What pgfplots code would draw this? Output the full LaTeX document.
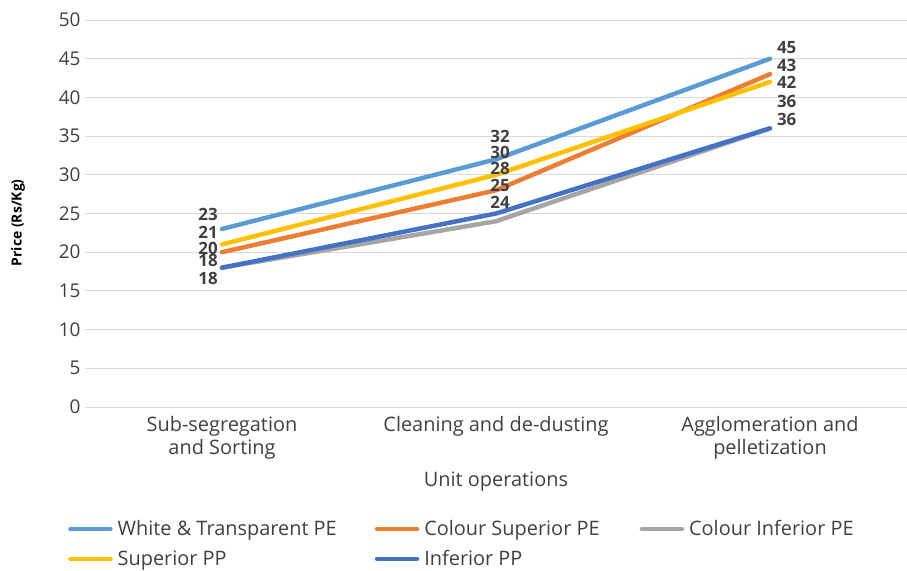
\documentclass[border=0pt]{standalone}
\usepackage{pgfplots}
\pgfplotsset{compat=1.18}
\usepackage{fontspec}
\setmainfont{Open Sans}
\definecolor{cWT}{HTML}{5B9BD5}
\definecolor{cCS}{HTML}{ED7D31}
\definecolor{cCI}{HTML}{A5A5A5}
\definecolor{cSP}{HTML}{FFC000}
\definecolor{cIP}{HTML}{4472C4}
\definecolor{txt}{HTML}{404040}
\definecolor{gridc}{HTML}{D9D9D9}
\begin{document}
\begin{tikzpicture}
\begin{axis}[
  at={(0,0)}, anchor=south west,
  scale only axis, width=822bp, height=387bp,
  xmin=-0.5, xmax=2.5, ymin=0, ymax=50,
  xtick={0,1,2},
  xticklabels={{Sub-segregation\\and Sorting},{Cleaning and de-dusting},{Agglomeration and\\pelletization}},
  xticklabel style={align=center, font=\fontsize{20}{23}\selectfont, text=txt, anchor=north, yshift=-6bp},
  ytick={0,5,...,50},
  yticklabel style={font=\fontsize{19}{21}\selectfont, text=txt, xshift=-1bp},
  /pgf/number format/assume math mode=true,
  xmajorgrids=false, ymajorgrids=true, grid style={draw=gridc, line width=0.9pt},
  major tick length=0pt,
  axis x line=bottom, axis y line=left,
  x axis line style={draw=gridc, line width=0.9pt, -},
  y axis line style={draw=none},
  xlabel={Unit operations},
  xlabel style={font=\fontsize{20}{23}\selectfont, text=txt, at={(axis description cs:0.5,-0.194)}, anchor=center},
  ylabel={\bfseries Price (Rs/Kg)},
  ylabel style={font=\fontsize{14}{16}\selectfont, text=black, at={(axis description cs:-0.0815,0.476)}, anchor=center, rotate=0},
  clip=false,
  legend columns=3,
  legend style={draw=none, fill=none, font=\fontsize{20}{23}\selectfont, text=txt,
    at={(axis description cs:-0.0207,-0.288)}, anchor=north west,
    /tikz/column 2/.style={column sep=33bp},
    /tikz/column 4/.style={column sep=35bp},
    row sep=9bp, cells={anchor=west}, inner sep=0pt,
    nodes={inner xsep=5bp}},
  legend image code/.code={\draw[#1, line cap=round] (0bp,0bp) -- (40bp,0bp);},
  every axis plot/.append style={line width=4.5pt, line cap=round, line join=round},
]
\addplot[cWT, mark=none] coordinates {(0,23) (1,32) (2,45)};
\addlegendentry{White \& Transparent PE}
\addplot[cCS, mark=none] coordinates {(0,20) (1,28) (2,43)};
\addlegendentry{Colour Superior PE}
\addplot[cCI, mark=none] coordinates {(0,18) (1,24) (2,36)};
\addlegendentry{Colour Inferior PE}
\addplot[cSP, mark=none] coordinates {(0,21) (1,30) (2,42)};
\addlegendentry{Superior PP}
\addplot[cIP, mark=none] coordinates {(0,18) (1,25) (2,36)};
\addlegendentry{Inferior PP}
\addplot[draw=none, mark=none, forget plot,
  nodes near coords, point meta=explicit symbolic,
  nodes near coords style={anchor=center, font=\fontsize{17}{19}\selectfont\bfseries, text=txt, inner sep=0pt}]
  table[meta=lab] {
x y lab
-0.051 24.9 23
-0.051 22.6 21
-0.051 20.5 20
-0.051 18.9 18
-0.051 16.6 18
1.015 35.0 32
1.015 32.9 30
1.015 30.8 28
1.015 28.6 25
1.015 26.5 24
2.061 46.4 45
2.061 44.1 43
2.061 41.9 42
2.061 39.5 36
2.061 37.2 36
};
\end{axis}
\pgfresetboundingbox
\path[use as bounding box] (-85bp,-164bp) rectangle (822bp,407bp);
\end{tikzpicture}
\end{document}
